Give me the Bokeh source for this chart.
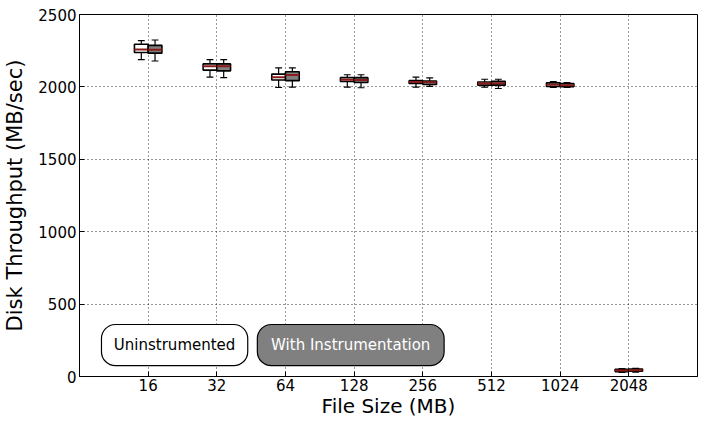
from bokeh.plotting import figure
from bokeh.models import (ColumnDataSource, FixedTicker, BoxAnnotation, Label, Range1d)
from bokeh.embed import file_html
from bokeh.resources import INLINE

# ---- data ----
sizes = ["16", "32", "64", "128", "256", "512", "1024", "2048"]

unins_low = [2188, 2068, 1996, 1998, 1998, 1998, 1996, 28]
unins_q1 = [2238, 2116, 2048, 2037, 2023, 2012, 2003, 34]
unins_med = [2258, 2142, 2066, 2050, 2034, 2023, 2015, 42]
unins_q3 = [2295, 2159, 2088, 2064, 2043, 2034, 2028, 50]
unins_high = [2319, 2188, 2131, 2084, 2068, 2053, 2037, 54]

inst_low = [2179, 2064, 1998, 1994, 2003, 1989, 1996, 30]
inst_q1 = [2233, 2111, 2043, 2030, 2017, 2012, 2001, 36]
inst_med = [2256, 2143, 2082, 2048, 2032, 2025, 2012, 44]
inst_q3 = [2287, 2159, 2105, 2064, 2041, 2039, 2023, 52]
inst_high = [2324, 2188, 2131, 2084, 2062, 2053, 2030, 56]

series_names = ["Uninstrumented", "With Instrumentation"]
y_ticks = [0, 500, 1000, 1500, 2000, 2500]

FONT = "DejaVu Sans"
MED_COLOR = "#8B1A1A"
GRAY = "#808080"

positions = list(range(1, len(sizes) + 1))

p = figure(width=699, height=420, output_backend="svg", toolbar_location=None,
           x_range=Range1d(0, 9), y_range=Range1d(0, 2500),
           min_border_left=66, min_border_right=2, min_border_top=14,
           min_border_bottom=0)
p.background_fill_color = "white"
p.border_fill_color = "white"
p.outline_line_color = "black"
p.outline_line_width = 1

BOX_W = 0.2
CAP_W = 0.1


def draw_boxes(offset, low, q1, med, q3, high, fill):
    xs = [x + offset for x in positions]
    src = ColumnDataSource(dict(x=xs, low=low, q1=q1, med=med, q3=q3, high=high,
                                cl=[x - CAP_W / 2 for x in xs],
                                cr=[x + CAP_W / 2 for x in xs],
                                bl=[x - BOX_W / 2 for x in xs],
                                br=[x + BOX_W / 2 for x in xs]))
    p.segment(x0="x", y0="q3", x1="x", y1="high", source=src, line_color="black", line_width=1.2)
    p.segment(x0="x", y0="low", x1="x", y1="q1", source=src, line_color="black", line_width=1.2)
    p.segment(x0="cl", y0="high", x1="cr", y1="high", source=src, line_color="black", line_width=1.2)
    p.segment(x0="cl", y0="low", x1="cr", y1="low", source=src, line_color="black", line_width=1.2)
    p.vbar(x="x", width=BOX_W, top="q3", bottom="q1", source=src, fill_color=fill,
           line_color="black", line_width=1.6)
    p.segment(x0="bl", y0="med", x1="br", y1="med", source=src, line_color=MED_COLOR, line_width=2)


draw_boxes(-0.1, unins_low, unins_q1, unins_med, unins_q3, unins_high, "white")
draw_boxes(0.1, inst_low, inst_q1, inst_med, inst_q3, inst_high, GRAY)

# axes
xt = FixedTicker(ticks=positions)
yt = FixedTicker(ticks=y_ticks)
p.xaxis.ticker = xt
p.xaxis.major_label_overrides = {pos: s for pos, s in zip(positions, sizes)}
p.yaxis.ticker = yt
p.xaxis.axis_label = "File Size (MB)"
p.yaxis.axis_label = "Disk Throughput (MB/sec)"
for ax in (p.xaxis[0], p.yaxis[0]):
    ax.axis_label_text_font = FONT
    ax.axis_label_text_font_style = "normal"
    ax.axis_label_text_color = "black"
    ax.major_label_text_font = FONT
    ax.major_label_text_font_size = "15px"
    ax.major_label_text_color = "black"
    ax.major_tick_in = 5
    ax.major_tick_out = 0
    ax.minor_tick_in = 0
    ax.minor_tick_out = 0
    ax.axis_line_color = "black"
    ax.major_tick_line_color = "black"
p.xaxis.axis_label_text_font_size = "20px"
p.yaxis.axis_label_text_font_size = "21px"
p.xaxis.major_label_standoff = 2
p.xaxis.axis_label_standoff = 0
p.yaxis.major_label_standoff = 3
p.yaxis.axis_label_standoff = 8

p.xgrid.grid_line_color = "black"
p.ygrid.grid_line_color = "black"
p.xgrid.grid_line_dash = "1 3"
p.ygrid.grid_line_dash = "1 3"
p.xgrid.grid_line_alpha = 0.8
p.ygrid.grid_line_alpha = 0.8

# legend-like rounded boxes
leg_boxes = [(0.32, 2.45, "white", "black"), (2.59, 5.31, GRAY, "white")]
for (l, r, fill, tcol), name in zip(leg_boxes, series_names):
    p.add_layout(BoxAnnotation(left=l, right=r, bottom=75, top=359, fill_color=fill,
                               fill_alpha=1, line_color="black", line_alpha=1,
                               line_width=1.2, border_radius=14, level="overlay"))
    p.add_layout(Label(x=(l + r) / 2, y=217, text=name, text_align="center",
                       text_baseline="middle", text_font=FONT, text_font_size="15px",
                       text_color=tcol, level="overlay"))

open("out.html", "w").write(file_html(p, INLINE))
